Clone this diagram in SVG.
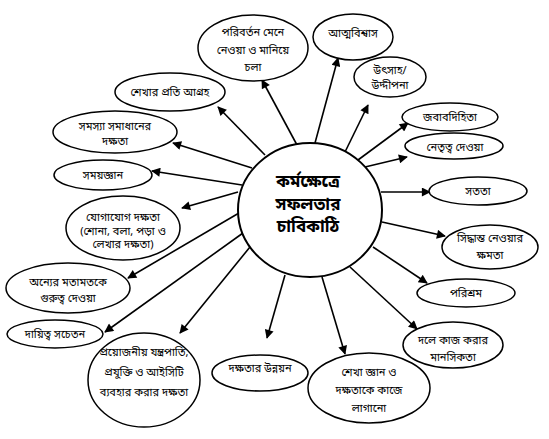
<svg xmlns="http://www.w3.org/2000/svg" width="549" height="439" viewBox="0 0 549 439">
<defs>
<style>
.n ellipse{fill:#fff;stroke:#000;stroke-width:1.5}
.c ellipse{fill:#fff;stroke:#000;stroke-width:2}
text{font-family:"Noto Sans Bengali","Noto Sans",sans-serif;font-size:11px;fill:#000;text-anchor:middle}
.c text{font-size:17px;font-weight:bold}
.e line{stroke:#000;stroke-width:1.6;marker-end:url(#ah)}
</style>
<marker id="ah" viewBox="0 0 10 10" refX="9" refY="5" markerWidth="12" markerHeight="9" markerUnits="userSpaceOnUse" orient="auto">
<path d="M0,0 L10,5 L0,10 z" fill="#000"/>
</marker>
</defs>
<rect width="549" height="439" fill="#fff"/>
<g class="e" id="connectors">
<line x1="265" y1="155" x2="218" y2="107"/>
<line x1="297" y1="145" x2="262" y2="80"/>
<line x1="315" y1="143" x2="338" y2="58"/>
<line x1="345" y1="152" x2="368" y2="105"/>
<line x1="358" y1="160" x2="408" y2="123"/>
<line x1="365" y1="167" x2="407" y2="157"/>
<line x1="381" y1="192" x2="430" y2="192"/>
<line x1="382" y1="222" x2="445" y2="236"/>
<line x1="373" y1="247" x2="427" y2="283"/>
<line x1="350" y1="267" x2="417" y2="329"/>
<line x1="322" y1="277" x2="345" y2="354"/>
<line x1="285" y1="275" x2="267" y2="338"/>
<line x1="250" y1="247" x2="180" y2="333"/>
<line x1="243" y1="233" x2="105" y2="332"/>
<line x1="239" y1="213" x2="128" y2="278"/>
<line x1="238" y1="192" x2="182" y2="208"/>
<line x1="242" y1="185" x2="152" y2="171"/>
<line x1="252" y1="168" x2="173" y2="143"/>
</g>
<g class="c" id="center">
<ellipse cx="310" cy="210" rx="72" ry="67"/>
<text x="308" y="187">কর্মক্ষেত্রে</text>
<text x="308" y="210">সফলতার</text>
<text x="308" y="232">চাবিকাঠি</text>
</g>
<g class="n" id="n-change">
<ellipse cx="253" cy="48" rx="55" ry="33"/>
<text x="253" y="36">পরিবর্তন মেনে</text>
<text x="253" y="54">নেওয়া ও মানিয়ে</text>
<text x="253" y="71">চলা</text>
</g>
<g class="n" id="n-confidence">
<ellipse cx="353" cy="37" rx="40" ry="23"/>
<text x="353" y="37">আত্মবিশ্বাস</text>
</g>
<g class="n" id="n-enthusiasm">
<ellipse cx="390" cy="77" rx="36" ry="20"/>
<text x="390" y="74">উৎসাহ/</text>
<text x="390" y="89">উদ্দীপনা</text>
</g>
<g class="n" id="n-accountability">
<ellipse cx="450" cy="117" rx="48" ry="14"/>
<text x="450" y="121">জবাবদিহিতা</text>
</g>
<g class="n" id="n-leadership">
<ellipse cx="454" cy="146" rx="49" ry="13"/>
<text x="455" y="151">নেতৃত্ব দেওয়া</text>
</g>
<g class="n" id="n-honesty">
<ellipse cx="478" cy="191" rx="49" ry="14"/>
<text x="478" y="195">সততা</text>
</g>
<g class="n" id="n-decision">
<ellipse cx="490" cy="247" rx="48" ry="22"/>
<text x="490" y="242">সিদ্ধান্ত নেওয়ার</text>
<text x="490" y="259">ক্ষমতা</text>
</g>
<g class="n" id="n-hardwork">
<ellipse cx="466" cy="293" rx="49" ry="14"/>
<text x="466" y="297">পরিশ্রম</text>
</g>
<g class="n" id="n-team">
<ellipse cx="453" cy="345" rx="50" ry="23"/>
<text x="453" y="344">দলে কাজ করার</text>
<text x="453" y="361">মানসিকতা</text>
</g>
<g class="n" id="n-apply">
<ellipse cx="369" cy="388" rx="61" ry="35"/>
<text x="369" y="376">শেখা জ্ঞান ও</text>
<text x="369" y="394">দক্ষতাকে কাজে</text>
<text x="369" y="412">লাগানো</text>
</g>
<g class="n" id="n-skilldev">
<ellipse cx="260" cy="373" rx="48" ry="18"/>
<text x="260" y="372">দক্ষতার উন্নয়ন</text>
</g>
<g class="n" id="n-ict">
<ellipse cx="144" cy="380" rx="56" ry="47"/>
<text x="144" y="356">প্রয়োজনীয় যন্ত্রপাতি,</text>
<text x="144" y="376">প্রযুক্তি ও আইসিটি</text>
<text x="144" y="396">ব্যবহার করার দক্ষতা</text>
</g>
<g class="n" id="n-responsible">
<ellipse cx="55" cy="334" rx="48" ry="14"/>
<text x="55" y="338">দায়িত্ব সচেতন</text>
</g>
<g class="n" id="n-others">
<ellipse cx="68" cy="288" rx="62" ry="25"/>
<text x="68" y="286">অন্যের মতামতকে</text>
<text x="68" y="302">গুরুত্ব দেওয়া</text>
</g>
<g class="n" id="n-communication">
<ellipse cx="123" cy="228" rx="57" ry="32"/>
<text x="123" y="221">যোগাযোগ দক্ষতা</text>
<text x="123" y="235">(শোনা, বলা, পড়া ও</text>
<text x="123" y="248">লেখার দক্ষতা)</text>
</g>
<g class="n" id="n-time">
<ellipse cx="103" cy="175" rx="49" ry="15"/>
<text x="103" y="179">সময়জ্ঞান</text>
</g>
<g class="n" id="n-problem">
<ellipse cx="115" cy="132" rx="62" ry="21"/>
<text x="115" y="130">সমস্যা সমাধানের</text>
<text x="115" y="145">দক্ষতা</text>
</g>
<g class="n" id="n-learning">
<ellipse cx="170" cy="92" rx="55" ry="19"/>
<text x="170" y="96">শেখার প্রতি আগ্রহ</text>
</g>
</svg>
